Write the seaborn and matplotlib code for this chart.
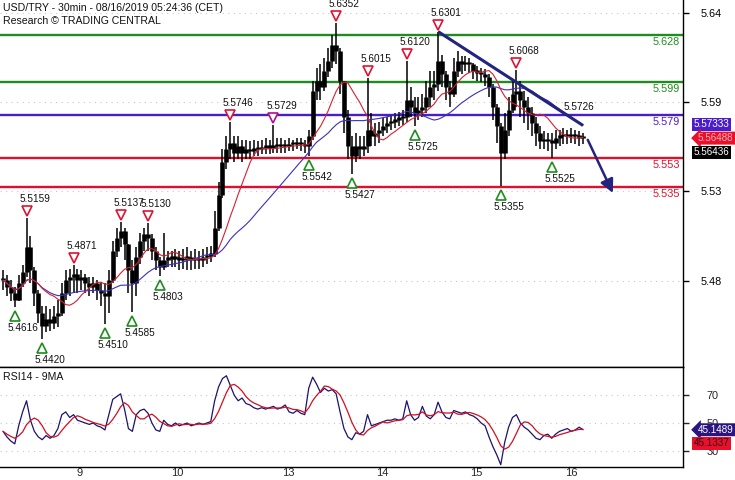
import numpy as np
import pandas as pd
import matplotlib
matplotlib.use("Agg")
import matplotlib.pyplot as plt
import seaborn as sns
from matplotlib.transforms import blended_transform_factory, ScaledTranslation

# ---------------- data (hourly bars) ----------------
closes = [5.478, 5.474, 5.470, 5.466, 5.476, 5.483, 5.498, 5.484, 5.470, 5.458,
          5.450, 5.454, 5.452, 5.456, 5.458, 5.470, 5.478, 5.480, 5.482, 5.478,
          5.480, 5.476, 5.474, 5.476, 5.472, 5.470, 5.468, 5.478, 5.496, 5.504,
          5.508, 5.500, 5.484, 5.476, 5.492, 5.502, 5.506, 5.504, 5.496, 5.490,
          5.486, 5.490, 5.492, 5.491, 5.492, 5.490, 5.491, 5.492, 5.490, 5.491,
          5.490, 5.492, 5.493, 5.494, 5.510, 5.530, 5.550, 5.558, 5.562, 5.556,
          5.560, 5.556, 5.558, 5.557, 5.559, 5.558, 5.559, 5.560, 5.559, 5.560,
          5.560, 5.561, 5.560, 5.561, 5.561, 5.562, 5.561, 5.560, 5.566, 5.594,
          5.600, 5.596, 5.606, 5.612, 5.622, 5.618, 5.600, 5.578, 5.560, 5.554,
          5.560, 5.558, 5.560, 5.570, 5.566, 5.568, 5.570, 5.572, 5.574, 5.575,
          5.576, 5.577, 5.578, 5.588, 5.584, 5.580, 5.582, 5.584, 5.590, 5.596,
          5.598, 5.612, 5.604, 5.596, 5.592, 5.606, 5.612, 5.610, 5.611, 5.610,
          5.606, 5.605, 5.604, 5.602, 5.596, 5.584, 5.572, 5.556, 5.570, 5.582,
          5.592, 5.594, 5.588, 5.584, 5.580, 5.574, 5.568, 5.563, 5.564, 5.563,
          5.562, 5.565, 5.566, 5.567, 5.566, 5.567, 5.566, 5.565, 5.5649]
highs = [5.484, 5.481, 5.478, 5.474, 5.481, 5.487, 5.5159, 5.505, 5.486, 5.472,
         5.462, 5.462, 5.460, 5.462, 5.466, 5.476, 5.484, 5.485, 5.4871, 5.485,
         5.484, 5.482, 5.480, 5.480, 5.478, 5.476, 5.476, 5.484, 5.502, 5.510,
         5.5137, 5.510, 5.500, 5.490, 5.498, 5.507, 5.510, 5.5130, 5.506, 5.498,
         5.492, 5.507, 5.496, 5.496, 5.497, 5.496, 5.497, 5.498, 5.496, 5.497,
         5.496, 5.497, 5.498, 5.499, 5.520, 5.538, 5.558, 5.566, 5.5746, 5.566,
         5.566, 5.564, 5.564, 5.563, 5.564, 5.563, 5.564, 5.565, 5.564, 5.5729,
         5.565, 5.565, 5.564, 5.565, 5.564, 5.565, 5.565, 5.564, 5.570, 5.600,
         5.608, 5.610, 5.614, 5.620, 5.628, 5.6352, 5.620, 5.600, 5.582, 5.566,
         5.568, 5.566, 5.566, 5.6015, 5.580, 5.574, 5.575, 5.577, 5.578, 5.579,
         5.580, 5.581, 5.582, 5.6120, 5.596, 5.590, 5.590, 5.592, 5.600, 5.606,
         5.606, 5.6301, 5.616, 5.606, 5.600, 5.614, 5.618, 5.615, 5.615, 5.614,
         5.611, 5.609, 5.608, 5.607, 5.604, 5.598, 5.586, 5.574, 5.580, 5.590,
         5.600, 5.6068, 5.600, 5.594, 5.590, 5.584, 5.578, 5.572, 5.569, 5.568,
         5.568, 5.570, 5.570, 5.571, 5.570, 5.571, 5.570, 5.569, 5.568]
lows = [5.472, 5.468, 5.465, 5.4616, 5.465, 5.474, 5.480, 5.476, 5.462, 5.452,
        5.4420, 5.446, 5.447, 5.448, 5.449, 5.456, 5.466, 5.468, 5.470, 5.470,
        5.472, 5.470, 5.468, 5.470, 5.466, 5.462, 5.4510, 5.458, 5.476, 5.492,
        5.498, 5.490, 5.470, 5.4585, 5.468, 5.488, 5.496, 5.496, 5.490, 5.484,
        5.4803, 5.484, 5.486, 5.486, 5.486, 5.484, 5.485, 5.484, 5.484, 5.485,
        5.485, 5.486, 5.488, 5.489, 5.492, 5.508, 5.528, 5.546, 5.552, 5.550,
        5.552, 5.550, 5.552, 5.552, 5.554, 5.554, 5.555, 5.555, 5.555, 5.556,
        5.556, 5.556, 5.556, 5.557, 5.557, 5.558, 5.557, 5.556, 5.5542, 5.564,
        5.588, 5.588, 5.594, 5.602, 5.608, 5.610, 5.592, 5.568, 5.552, 5.5427,
        5.550, 5.552, 5.554, 5.556, 5.560, 5.560, 5.562, 5.566, 5.568, 5.570,
        5.571, 5.572, 5.573, 5.575, 5.578, 5.5725, 5.576, 5.578, 5.580, 5.584,
        5.588, 5.594, 5.596, 5.588, 5.584, 5.590, 5.602, 5.604, 5.606, 5.605,
        5.601, 5.600, 5.599, 5.597, 5.590, 5.576, 5.562, 5.5355, 5.552, 5.566,
        5.580, 5.584, 5.578, 5.574, 5.570, 5.566, 5.560, 5.558, 5.558, 5.557,
        5.5525, 5.558, 5.560, 5.561, 5.561, 5.562, 5.561, 5.560, 5.561]
rsi = [44, 40, 37, 35, 48, 58, 66, 52, 44, 40,
       38, 41, 39, 41, 46, 56, 58, 54, 56, 52,
       51, 50, 49, 50, 48, 47, 45, 56, 67, 69,
       71, 60, 46, 44, 56, 59, 60, 57, 50, 45,
       44, 52, 49, 48, 50, 48, 49, 50, 48, 49,
       50, 49, 50, 51, 66, 76, 82, 84, 77, 70,
       66, 68, 64, 63, 61, 60, 61, 60, 61, 62,
       60, 61, 63, 58, 57, 59, 57, 56, 75, 83,
       78, 72, 75, 73, 74, 71, 58, 46, 40, 38,
       43, 42, 44, 56, 48, 49, 50, 51, 52, 52,
       53, 52, 53, 66, 56, 52, 54, 62, 55, 53,
       56, 65, 58, 54, 53, 59, 58, 57, 58, 56,
       55, 53, 50, 48, 40, 33, 27, 20, 36, 47,
       54, 56, 50, 47, 45, 42, 39, 38, 41, 42,
       39, 42, 44, 45, 46, 44, 45, 47, 45.1489]

levels = [5.628, 5.599, 5.579, 5.553, 5.535]
level_colors = ["#1e8c1e", "#1e8c1e", "#4a1ccc", "#e0102c", "#e0102c"]

pivot_high_idx = [6, 18, 30, 37, 58, 69, 85, 93, 103, 111, 131]
pivot_low_idx = [3, 10, 26, 33, 40, 78, 89, 105, 127, 140]

trend_x = [111.0, 148.0]
trend_y = [5.6301, 5.5726]
arrow_from = (149.2, 5.5638)
arrow_to = (155.6, 5.5313)

day_ticks = [17.9, 42.1, 70.4, 94.4, 118.4, 142.6]
day_labels = ["9", "10", "13", "14", "15", "16"]
price_ticks = [5.4772, 5.5326, 5.5870, 5.6414]
price_labels = ["5.48", "5.53", "5.59", "5.64"]
rsi_ticks = [30, 50, 70]
rsi_labels = ["30", "50", "70"]

badge_price = ["5.57333", "5.56488", "5.56436"]
badge_rsi = ["45.1489", "45.1337"]

header1 = "USD/TRY - 30min - 08/16/2019 05:24:36 (CET)"
header2 = "Research \u00a9 TRADING CENTRAL"

# ---------------- derived series ----------------
idx = np.arange(len(closes))
c = np.array(closes)
opens = np.concatenate([[closes[0]], c[:-1]])
ma_fast = pd.Series(closes).rolling(10, min_periods=1).mean().to_numpy()
ma_slow = pd.Series(closes).rolling(25, min_periods=1).mean().to_numpy()
rsi_ma = pd.Series(rsi).rolling(5, min_periods=1).mean().to_numpy()

# ---------------- figure ----------------
sns.set_style("white")
plt.rcParams["font.family"] = ["Liberation Sans", "DejaVu Sans"]

W, H = 735, 480
fig = plt.figure(figsize=(W / 100, H / 100), dpi=100)
ax = fig.add_axes([0, 1 - 367 / H, 683 / W, 367 / H])
ax2 = fig.add_axes([0, 1 - 467 / H, 683 / W, 100 / H])

xlim = (-0.77, 173.5)
for a in (ax, ax2):
    a.set_xlim(*xlim)
    a.set_facecolor("white")
    a.spines["left"].set_visible(False)
    for s in ("right", "bottom", "top"):
        a.spines[s].set_color("black")
        a.spines[s].set_linewidth(1.0)
ax.spines["top"].set_visible(False)
ax.set_ylim(5.4248, 5.6494)
ax2.set_ylim(18.35, 90.3)

# grid (dotted)
for t in price_ticks:
    ax.axhline(t, color="#c8c8c8", lw=0.8, ls=(0, (1, 4)), zorder=0)
for t in rsi_ticks:
    ax2.axhline(t, color="#c8c8c8", lw=0.8, ls=(0, (1, 4)), zorder=0)

# levels
tr_lvl = blended_transform_factory(ax.transAxes, ax.transData)
for lv, col in zip(levels, level_colors):
    ax.axhline(lv, color=col, lw=1.7, zorder=1)
    ax.annotate(f"{lv:.3f}", xy=(0.996, lv), xycoords=tr_lvl, xytext=(0, -2),
                textcoords="offset pixels", ha="right", va="top", color=col,
                fontsize=7.8, zorder=5)

# candles
ax.vlines(idx, lows, highs, color="black", lw=1.1, zorder=3)
body_lo = np.minimum(opens, c)
body_hi = np.maximum(np.maximum(opens, c), body_lo + 0.0015)
ax.vlines(idx, body_lo, body_hi, color="black", lw=3.3, zorder=3)

# moving averages
sns.lineplot(x=idx, y=ma_slow, ax=ax, color="#3a2fc0", linewidth=0.8, zorder=4)
sns.lineplot(x=idx, y=ma_fast, ax=ax, color="#d42030", linewidth=0.8, zorder=4)

# pivots
up_shift = ScaledTranslation(0, 7 / 100, fig.dpi_scale_trans)
dn_shift = ScaledTranslation(0, -9 / 100, fig.dpi_scale_trans)
for i in pivot_high_idx:
    col = "#b0108a" if i == 69 else "#e01030"
    ax.plot(i, highs[i], marker="v", ms=7.5, mfc="white", mec=col, mew=1.2,
            ls="none", transform=ax.transData + up_shift, zorder=6)
    ax.annotate(f"{highs[i]:.4f}", xy=(i, highs[i]), xytext=(8, 14),
                textcoords="offset pixels", ha="center", va="bottom",
                fontsize=7.2, color="#111111", zorder=6)
for i in pivot_low_idx:
    ax.plot(i, lows[i], marker="^", ms=7.5, mfc="white", mec="#1e8c1e", mew=1.2,
            ls="none", transform=ax.transData + dn_shift, zorder=6)
    ax.annotate(f"{lows[i]:.4f}", xy=(i, lows[i]), xytext=(8, -16),
                textcoords="offset pixels", ha="center", va="top",
                fontsize=7.2, color="#111111", zorder=6)

# trend line + arrow
ax.plot(trend_x, trend_y, color="#232380", lw=2.2, zorder=5, solid_capstyle="butt")
ax.annotate(f"{trend_y[1]:.4f}", xy=(trend_x[1], trend_y[1]), xytext=(-4, 13),
            textcoords="offset pixels", ha="center", va="bottom", fontsize=7.2,
            color="#111111")
ax.annotate("", xy=arrow_to, xytext=arrow_from,
            arrowprops=dict(arrowstyle="-|>", color="#232380", lw=1.8,
                            mutation_scale=20, shrinkA=0, shrinkB=0), zorder=6)

# price axis on the right
ax.yaxis.tick_right()
ax.set_yticks(price_ticks)
ax.set_yticklabels(price_labels)
ax.tick_params(axis="y", direction="out", length=4, width=1, pad=9, labelsize=7.8,
               colors="black")
ax.set_xticks([])

# badges on the price axis
bfs = 7.1
ax.text(1.016, 5.57333, badge_price[0], transform=tr_lvl, ha="left", va="center",
        fontsize=bfs, color="white",
        bbox=dict(boxstyle="square,pad=0.15", fc="#4a1ccc", ec="none"), zorder=10)
ax.text(1.022, 5.56488, badge_price[1], transform=tr_lvl, ha="left", va="center",
        fontsize=bfs, color="#ffb0b8",
        bbox=dict(boxstyle="larrow,pad=0.15", fc="#e8102a", ec="none"), zorder=10)
ax.text(1.016, 5.5562, badge_price[2], transform=tr_lvl, ha="left", va="center",
        fontsize=bfs, color="white",
        bbox=dict(boxstyle="square,pad=0.15", fc="black", ec="none"), zorder=10)

# headers
fig.text(3 / W, 1 - 8 / H, header1, ha="left", va="center", fontsize=7.6, color="#111111")
fig.text(3 / W, 1 - 21 / H, header2, ha="left", va="center", fontsize=7.6, color="#111111")

# RSI panel
sns.lineplot(x=idx, y=rsi, ax=ax2, color="#1c1270", linewidth=0.9, zorder=4)
sns.lineplot(x=idx, y=rsi_ma, ax=ax2, color="#d01020", linewidth=0.9, zorder=4)
ax2.text(3 / 683, 0.9, "RSI14 - 9MA", transform=ax2.transAxes, ha="left",
         va="center", fontsize=7.6, color="#111111")
ax2.yaxis.tick_right()
ax2.set_yticks(rsi_ticks)
ax2.set_yticklabels(rsi_labels)
ax2.tick_params(axis="y", direction="out", length=4, width=1, pad=13, labelsize=7.8)
tr_rsi = blended_transform_factory(ax2.transAxes, ax2.transData)
ax2.text(1.022, rsi[-1], badge_rsi[0], transform=tr_rsi, ha="left", va="center",
         fontsize=bfs, color="white",
         bbox=dict(boxstyle="larrow,pad=0.15", fc="#2a1580", ec="none"), zorder=10)
ax2.text(1.016, 35.5, badge_rsi[1], transform=tr_rsi,
         ha="left", va="center", fontsize=bfs, color="#3a0010",
         bbox=dict(boxstyle="square,pad=0.15", fc="#e8102a", ec="none"), zorder=10)

ax2.set_xticks(day_ticks)
ax2.set_xticklabels(day_labels)
ax2.tick_params(axis="x", direction="out", length=4, width=1, pad=-3, labelsize=8)
off = ScaledTranslation(3 / 100, 0, fig.dpi_scale_trans)
for lab in ax2.get_xticklabels():
    lab.set_horizontalalignment("left")
    lab.set_transform(lab.get_transform() + off)
for a in (ax, ax2):
    a.set_xlabel("")
    a.set_ylabel("")
    if a.get_legend():
        a.get_legend().remove()

fig.savefig("out.png", dpi=100)
